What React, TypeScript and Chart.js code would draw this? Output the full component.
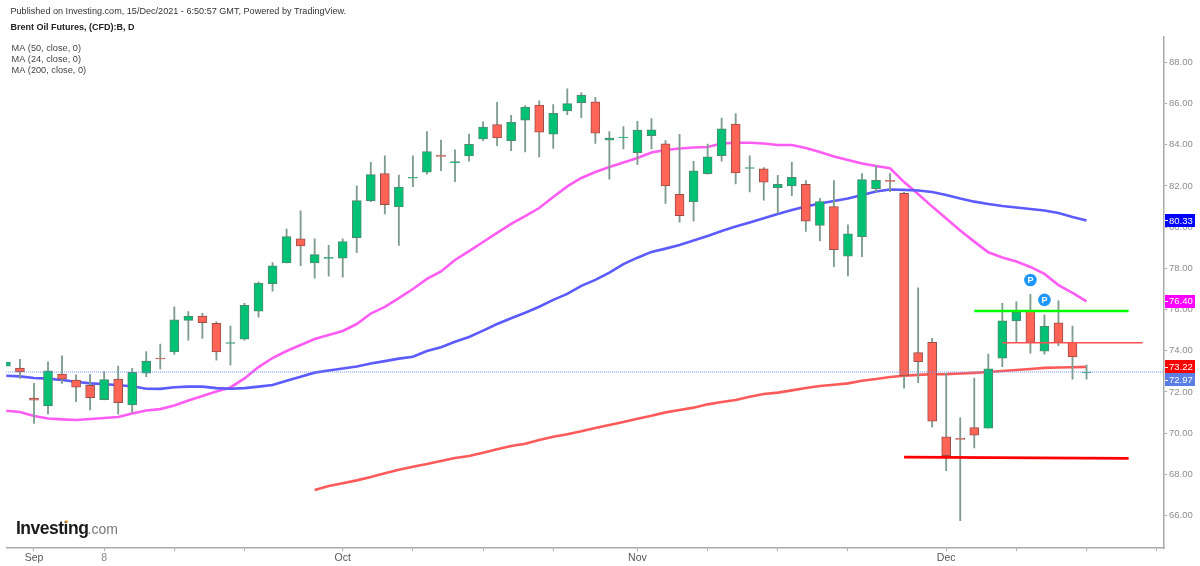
import { useEffect, useRef } from "react";
import { Chart } from "chart.js/auto";

const opens = [73.25,73.16,71.70,71.32,72.87,72.58,72.32,71.63,72.63,71.37,72.91,73.65,73.94,75.48,75.69,75.33,74.36,74.57,75.92,77.26,78.26,79.43,78.26,78.48,78.50,79.49,81.27,82.60,80.99,82.38,82.67,83.50,83.12,83.46,84.28,84.98,84.20,85.20,85.93,84.52,85.64,86.04,86.08,84.22,84.34,83.62,84.44,84.05,81.60,81.24,82.60,83.47,85.01,82.85,82.83,81.92,82.00,82.08,80.09,81.00,78.59,79.54,81.87,82.27,81.65,73.91,74.41,69.82,69.75,70.27,70.25,73.64,75.45,75.97,73.98,75.36,74.41,72.93];
const highs = [73.45,73.59,72.42,73.47,73.75,72.83,72.86,72.99,73.26,73.15,73.96,74.33,76.14,75.90,75.82,75.41,75.20,76.31,77.35,78.28,79.91,80.79,79.44,79.12,79.43,82.01,83.15,83.47,82.53,83.46,84.64,84.23,83.75,84.52,85.12,86.06,85.43,85.90,86.14,85.95,86.72,86.53,86.31,84.64,84.88,85.14,85.27,84.20,84.51,83.20,84.04,85.30,85.51,83.47,82.89,82.52,83.15,82.26,81.40,82.26,80.11,82.60,82.99,82.60,81.69,77.06,74.61,72.91,70.74,72.67,73.84,76.31,76.38,76.74,75.74,76.42,75.20,73.31];
const lows = [73.25,72.66,70.48,70.93,72.42,71.53,71.13,71.61,70.92,71.00,72.74,73.12,73.83,74.52,74.60,73.55,73.30,74.52,75.63,76.90,78.26,78.13,77.53,77.62,77.57,78.76,81.24,80.64,79.12,81.97,82.57,82.74,82.21,83.21,84.20,83.96,83.71,83.65,83.41,83.83,85.46,85.32,84.07,82.33,83.80,83.03,83.80,81.16,80.24,80.29,82.58,83.21,82.10,81.71,81.31,80.67,81.53,79.80,79.33,78.08,77.63,78.57,81.72,81.72,72.18,72.45,70.29,68.18,65.75,69.28,70.25,73.23,74.39,73.88,73.84,74.25,72.62,72.62];
const closes = [73.45,72.98,71.60,73.03,72.62,72.23,71.72,72.60,71.48,72.96,73.50,73.60,75.50,75.69,75.36,73.94,74.40,76.21,77.28,78.12,79.54,79.09,78.67,78.54,79.30,81.29,82.55,81.09,81.95,82.42,83.67,83.43,83.18,84.02,84.86,84.33,85.09,85.83,84.61,85.53,86.00,86.40,84.57,84.33,84.38,84.72,84.73,82.00,80.56,82.74,83.42,84.77,82.63,82.90,82.19,82.08,82.42,80.29,81.24,78.91,79.68,82.31,82.28,82.22,72.78,73.47,70.58,68.91,69.70,69.90,73.12,75.46,75.87,74.41,75.19,74.41,73.70,72.97];

const ma24 = [71.09,71.03,70.83,70.71,70.67,70.64,70.69,70.74,70.79,70.96,71.10,71.17,71.34,71.59,71.81,72.02,72.22,72.66,73.21,73.65,73.99,74.28,74.57,74.77,74.96,75.30,75.81,76.13,76.56,77.00,77.49,77.85,78.41,78.84,79.28,79.72,80.16,80.54,80.93,81.47,81.98,82.39,82.68,82.92,83.14,83.36,83.63,83.75,83.82,83.87,83.89,84.06,84.10,84.10,84.06,83.99,83.99,83.84,83.65,83.43,83.26,83.09,82.97,82.86,82.19,81.61,81.00,80.42,79.84,79.30,78.78,78.53,78.33,78.07,77.73,77.19,76.81,76.40];
const ma50 = [72.79,72.76,72.68,72.65,72.58,72.50,72.42,72.39,72.33,72.28,72.16,72.15,72.23,72.26,72.26,72.19,72.16,72.19,72.26,72.34,72.55,72.74,72.94,73.04,73.14,73.24,73.38,73.50,73.62,73.71,73.99,74.17,74.44,74.67,74.98,75.30,75.58,75.85,76.14,76.47,76.76,77.15,77.44,77.79,78.21,78.52,78.80,78.96,79.14,79.35,79.57,79.82,80.03,80.23,80.43,80.64,80.83,81.00,81.15,81.27,81.39,81.56,81.73,81.83,81.81,81.78,81.71,81.56,81.39,81.24,81.13,81.03,80.96,80.88,80.81,80.69,80.50,80.33];
const ma200 = [null,null,null,null,null,null,null,null,null,null,null,null,null,null,null,null,null,null,null,null,null,null,67.24,67.44,67.57,67.71,67.87,68.05,68.23,68.37,68.50,68.65,68.80,68.89,69.05,69.22,69.38,69.49,69.67,69.83,69.95,70.09,70.25,70.40,70.54,70.70,70.85,71.01,71.13,71.24,71.40,71.51,71.61,71.77,71.90,71.97,72.08,72.19,72.29,72.35,72.42,72.55,72.63,72.73,72.79,72.83,72.86,72.87,72.90,72.93,72.97,73.02,73.07,73.12,73.17,73.19,73.20,73.22];

const yTicks = [66,68,70,72,74,76,78,80,82,84,86,88];
const xTickBars = [2,7,12,17,24,29,34,39,45,50,55,60,67,72,77,82];
const xTickLabels: Record<number,string> = { 2:"Sep", 7:"8", 24:"Oct", 45:"Nov", 67:"Dec" };

const greenLevel = { bars:[69,80], price:[75.93,75.93] };
const thinRedLevel = { bars:[71,81], price:[74.39,74.39] };
const redLevel = { bars:[64,80], price:[68.84,68.78] };
const lastPrice = 72.97;
const priceLineBars = [0,83];
const pinBars = [73,74];
const pinPrices = [77.44,76.47];

const valueTags = [
  { value:80.33, bg:"#0000ff", fg:"#ffffff" },
  { value:76.40, bg:"#ff00ff", fg:"#ffffff" },
  { value:73.22, bg:"#ff0000", fg:"#ffffff" },
  { value:72.97, bg:"#5b7ee5", fg:"#ffffff" },
];
const headerLines = [
  { text:"Published on Investing.com, 15/Dec/2021 - 6:50:57 GMT, Powered by TradingView.", x:10.5, y:14, font:"9.1px 'Liberation Sans'", color:"#333333" },
  { text:"Brent Oil Futures, (CFD):B, D", x:10.5, y:29.5, font:"bold 9px 'Liberation Sans'", color:"#222222" },
  { text:"MA (50, close, 0)", x:11.5, y:51, font:"9.2px 'Liberation Sans'", color:"#444444" },
  { text:"MA (24, close, 0)", x:11.5, y:62, font:"9.2px 'Liberation Sans'", color:"#444444" },
  { text:"MA (200, close, 0)", x:11.5, y:73, font:"9.2px 'Liberation Sans'", color:"#444444" },
];

const GREEN = "#00c174";
const RED = "#ff6457";
const AXIS = "#ababab";

const overlayPlugin = {
  id: "overlay",
  afterDraw(chart: any) {
    const { ctx, scales } = chart;
    const y = scales.y;
    ctx.save();
    ctx.textBaseline = "alphabetic";
    ctx.textAlign = "left";
    for (const l of headerLines) {
      ctx.font = l.font;
      ctx.fillStyle = l.color;
      ctx.fillText(l.text, l.x, l.y);
    }
    // logo
    ctx.font = "bold 17.5px 'Liberation Sans'";
    ctx.fillStyle = "#1a1a1a";
    ctx.letterSpacing = "-0.5px";
    ctx.fillText("Investing", 16, 534);
    ctx.letterSpacing = "0px";
    ctx.font = "14px 'Liberation Sans'";
    ctx.fillStyle = "#777777";
    ctx.fillText(".com", 87.5, 534);
    ctx.beginPath();
    ctx.arc(66.5, 521.5, 1.3, 0, Math.PI * 2);
    ctx.fillStyle = "#f7a41d";
    ctx.fill();

    // pin letters
    const pinMeta = chart.getDatasetMeta(chart.data.datasets.findIndex((d: any) => d.label === "pins"));
    ctx.font = "bold 9px 'Liberation Sans'";
    ctx.fillStyle = "#ffffff";
    ctx.textAlign = "center";
    ctx.textBaseline = "middle";
    pinMeta.data.forEach((p: any) => ctx.fillText("P", p.x, p.y + 0.5));

    // value tags
    ctx.font = "9.5px 'Liberation Sans'";
    const h = 13;
    let prevBottom = -Infinity;
    for (const t of valueTags) {
      let cy = y.getPixelForValue(t.value);
      if (cy - h / 2 < prevBottom) cy = prevBottom + h / 2;
      prevBottom = cy + h / 2;
      ctx.fillStyle = t.bg;
      ctx.fillRect(1165, Math.round(cy - h / 2), 30, h);
      ctx.fillStyle = t.fg;
      ctx.fillRect(1165, Math.round(cy), 3, 1);
      ctx.textAlign = "left";
      ctx.fillText(t.value.toFixed(2), 1169, cy + 0.5);
    }
    ctx.restore();
  },
};

export default function App() {
  const ref = useRef<HTMLCanvasElement>(null);
  useEffect(() => {
    if (!ref.current) return;
    const idx = opens.map((_, i) => i);
    const isUp = idx.map((i) => closes[i] >= opens[i]);
    const line = (label: string, xs: number[], ys: (number | null)[], color: string, width: number, order: number, extra: any = {}) => ({
      type: "line" as const,
      label,
      data: xs.map((x, i) => ({ x, y: ys[i] })),
      borderColor: color,
      borderWidth: width,
      pointRadius: 0,
      tension: 0,
      order,
      spanGaps: false,
      ...extra,
    });
    const chart = new Chart(ref.current, {
      type: "bar",
      data: {
        datasets: [
          line("MA 50", idx, ma50, "#5b5bff", 2.6, 10),
          line("MA 24", idx, ma24, "#ff5cf4", 2.6, 10),
          line("MA 200", idx, ma200, "#ff5a5a", 2.6, 10),
          {
            type: "bar",
            label: "wicks",
            data: idx.map((i) => ({ x: i, y: [lows[i], highs[i]] })),
            backgroundColor: "#7f9d8e",
            barThickness: 1.2,
            grouped: false,
            order: 6,
          },
          {
            type: "bar",
            label: "bodies",
            data: idx.map((i) => ({ x: i, y: [opens[i], closes[i]] })),
            backgroundColor: isUp.map((u) => (u ? GREEN : RED)),
            borderColor: isUp.map((u) => (u ? "#4e8a70" : "#9a4e48")),
            borderWidth: 1,
            borderSkipped: false,
            barThickness: 9,
            grouped: false,
            order: 5,
          },
          line("price", priceLineBars, [lastPrice, lastPrice], "#6f8fe8", 1, 4, { borderDash: [1, 1] }),
          line("green level", greenLevel.bars, greenLevel.price, "#00ff00", 2.6, 3),
          line("thin red level", thinRedLevel.bars, thinRedLevel.price, "#ff5050", 1.4, 3),
          line("red level", redLevel.bars, redLevel.price, "#ff0000", 2.6, 3),
          {
            type: "line",
            label: "pins",
            data: pinBars.map((x, i) => ({ x, y: pinPrices[i] })),
            showLine: false,
            pointRadius: 6.3,
            pointBackgroundColor: "#1e96fc",
            pointBorderWidth: 0,
            order: 2,
          },
        ] as any,
      },
      options: {
        responsive: false,
        animation: false,
        devicePixelRatio: 1,
        layout: { padding: { left: 5, top: 37, right: 0, bottom: 0 } },
        plugins: { legend: { display: false }, tooltip: { enabled: false } },
        scales: {
          x: {
            type: "linear",
            offset: false,
            min: 0.028,
            max: 82.52,
            afterBuildTicks: (s: any) => { s.ticks = xTickBars.map((value) => ({ value })); },
            afterFit: (s: any) => { s.height = 18; },
            border: { color: AXIS, width: 1.5 },
            grid: { offset: false, drawOnChartArea: false, drawTicks: true, tickLength: 3, color: AXIS },
            ticks: {
              autoSkip: false,
              maxRotation: 0,
              padding: 1,
              font: { family: "'Liberation Sans'", size: 10.5 },
              color: (c: any) => (xTickLabels[c.tick?.value] === "8" ? "#8a8a8a" : "#555555"),
              callback: (v: any) => xTickLabels[v] ?? "",
            },
          },
          y: {
            type: "linear",
            position: "right",
            min: 64.427,
            max: 89.233,
            afterBuildTicks: (s: any) => { s.ticks = yTicks.map((value) => ({ value })); },
            afterFit: (s: any) => { s.width = 36; },
            border: { color: AXIS, width: 1.5 },
            grid: { drawOnChartArea: false, drawTicks: true, tickLength: 3, color: AXIS },
            ticks: {
              autoSkip: false,
              padding: 2,
              font: { family: "'Liberation Sans'", size: 9.5 },
              color: "#8c8c8c",
              callback: (v: any) => Number(v).toFixed(2),
            },
          },
        },
      } as any,
      plugins: [overlayPlugin],
    });
    return () => chart.destroy();
  }, []);
  return (
    <div style={{ position: "fixed", left: 0, top: 0, width: 1200, height: 566, background: "#ffffff" }}>
      <canvas ref={ref} width={1200} height={566} style={{ display: "block", filter: "blur(0.35px)" }} />
    </div>
  );
}
